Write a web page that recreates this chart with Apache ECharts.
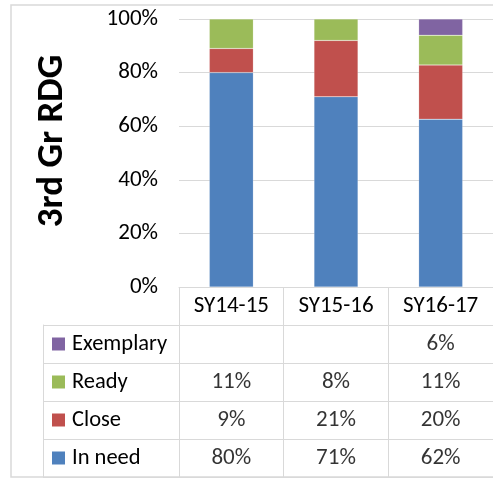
<!DOCTYPE html>
<html>
<head>
<meta charset="utf-8">
<script src="https://cdn.jsdelivr.net/npm/echarts@6/dist/echarts.min.js"></script>
<style>html,body{margin:0;padding:0;background:#fff}#c{width:493px;height:479px}</style>
</head>
<body>
<div id="c"></div>
<script>
const categories = ['SY14-15', 'SY15-16', 'SY16-17'];
const inNeed = [80, 71, 62];
const closeVals = [9, 21, 20];
const ready = [11, 8, 11];
const exemplary = [null, null, 6];
const seriesNames = ['In need', 'Close', 'Ready', 'Exemplary'];
const colors = ['#4F81BD', '#C0504D', '#9BBB59', '#8064A2'];
const yMin = 0, yMax = 100, yInterval = 20;
const yAxisTitle = '3rd Gr RDG';

const seriesValues = [inNeed, closeVals, ready, exemplary];
const totals = categories.map((c, i) => seriesValues.reduce((s, arr) => s + (arr[i] || 0), 0));
const FONT = 'Carlito, Lato, sans-serif';
const FS = 23;
const GRID_LINE = '#D9D9D9';

const barSeries = seriesNames.map((name, k) => ({
  name: name,
  type: 'bar',
  stack: 'total',
  xAxisIndex: 0, yAxisIndex: 0,
  barWidth: 44,
  itemStyle: { color: colors[k], borderColor: 'rgba(255,255,255,0.35)', borderWidth: 0.5 },
  data: seriesValues[k].map((v, i) => v == null ? null : v / totals[i] * 100)
}));

const cellData = [];
seriesNames.forEach((name, k) => {
  seriesValues[k].forEach((v, i) => cellData.push([i, name, v]));
});

const richLegend = {};
seriesNames.forEach((n, k) => {
  richLegend['m' + k] = { width: 13, height: 13, backgroundColor: colors[k] };
});
richLegend.t = { fontSize: FS - 0.5, color: '#000', fontFamily: FONT, padding: [0, 0, 0, 7] };

const chart = echarts.init(document.getElementById('c'));
chart.setOption({
  animation: false,
  textStyle: { fontFamily: FONT },
  graphic: [{
    type: 'rect', shape: { x: 11, y: 5, width: 495, height: 472 },
    style: { fill: 'none', stroke: GRID_LINE, lineWidth: 1.5 }, silent: true, z: -10
  }],
  grid: [
    { left: 179, top: 19, width: 324, height: 268 },
    { left: 179, top: 325, width: 324, height: 152 },
    { left: 43, top: 325, width: 136, height: 152 }
  ],
  xAxis: [
    {
      gridIndex: 0, type: 'category', data: categories,
      axisLine: { lineStyle: { color: GRID_LINE, width: 1 } },
      axisTick: { show: true, length: 38, interval: 0, lineStyle: { color: GRID_LINE } },
      axisLabel: { fontSize: FS, color: '#000', margin: 8, fontFamily: FONT, interval: 0 }
    },
    {
      gridIndex: 1, type: 'category', data: categories,
      axisLine: { show: false }, axisTick: { show: false }, axisLabel: { show: false },
      splitLine: { show: true, interval: 0, lineStyle: { color: GRID_LINE } }
    },
    {
      gridIndex: 2, type: 'value', min: 0, max: 1,
      axisLine: { show: false }, axisTick: { show: false }, axisLabel: { show: false },
      splitLine: { show: false }
    }
  ],
  yAxis: [
    {
      gridIndex: 0, type: 'value', min: yMin, max: yMax, interval: yInterval,
      axisLine: { show: false }, axisTick: { show: false },
      splitLine: { lineStyle: { color: GRID_LINE, width: 1 } },
      axisLabel: { formatter: '{value}%', fontSize: FS, color: '#000', margin: 21, fontFamily: FONT },
      name: yAxisTitle, nameLocation: 'middle', nameRotate: 90, nameGap: 108,
      nameTextStyle: { fontSize: 37, fontWeight: 'bold', color: '#000', fontFamily: FONT, padding: [0, 0, 0, 24] }
    },
    {
      gridIndex: 1, type: 'category', data: seriesNames,
      axisLine: { show: false }, axisTick: { show: false }, axisLabel: { show: false },
      splitLine: { show: true, interval: 0, lineStyle: { color: GRID_LINE } }
    },
    {
      gridIndex: 2, type: 'category', data: seriesNames,
      axisLine: { show: true, lineStyle: { color: GRID_LINE } }, axisTick: { show: false },
      splitLine: { show: true, interval: 0, lineStyle: { color: GRID_LINE } },
      axisLabel: {
        inside: true, margin: 9, interval: 0,
        formatter: v => '{m' + seriesNames.indexOf(v) + '|}{t|' + v + '}',
        rich: richLegend
      }
    }
  ],
  series: barSeries.concat([{
    type: 'scatter', xAxisIndex: 1, yAxisIndex: 1,
    symbolSize: 0, silent: true,
    data: cellData,
    label: {
      show: true, position: 'inside', fontSize: FS, color: '#000', fontFamily: FONT,
      formatter: p => p.value[2] == null ? '' : p.value[2] + '%'
    }
  }])
});
</script>
</body>
</html>
